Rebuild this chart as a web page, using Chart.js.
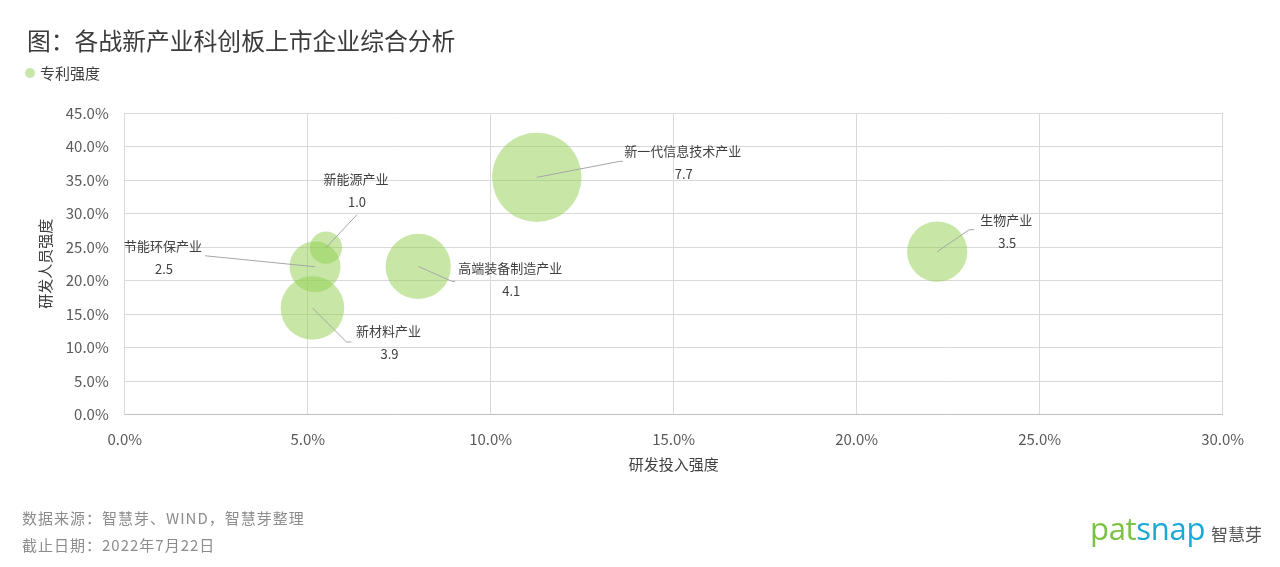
<!DOCTYPE html>
<html>
<head>
<meta charset="utf-8">
<script src="https://cdn.jsdelivr.net/npm/chart.js@4/dist/chart.umd.min.js"></script>
<style>
  html, body { margin: 0; padding: 0; background: #fff; }
  body { width: 1280px; height: 567px; position: relative; overflow: hidden;
         font-family: "Noto Sans CJK SC", "Noto Sans", sans-serif; }
  #wrap { position: absolute; left: 0; top: 0; width: 1280px; height: 567px; }
  .t { position: absolute; white-space: nowrap; line-height: 1; }
  #title { left: 27px; top: 28px; font-size: 23.8px; color: #3b3b3b; }
  #legend { left: 25px; top: 65px; font-size: 15px; color: #404040; }
  #legend i { display: inline-block; width: 10px; height: 10px; border-radius: 50%;
              background: #c8e6a8; margin-right: 5px; vertical-align: 1px; }
  .foot { left: 22px; font-size: 15px; color: #8c8c8c; letter-spacing: 1px; }
  #logo { left: 1090px; top: 513px; font-family: "Open Sans", sans-serif; font-size: 31px; letter-spacing: -0.3px; }
  #logo .g { color: #7cc242; } #logo .b { color: #1aa9d6; }
  #logocn { left: 1211px; top: 525px; font-size: 17px; color: #555; }
</style>
</head>
<body>
<div id="wrap"><canvas id="grafico"></canvas></div>
<div class="t" id="title">图：各战新产业科创板上市企业综合分析</div>
<div class="t" id="legend"><i></i>专利强度</div>
<div class="t foot" style="top:510px">数据来源：智慧芽、WIND，智慧芽整理</div>
<div class="t foot" style="top:537px">截止日期：2022年7月22日</div>
<div class="t" id="logo"><span class="g">pat</span><span class="b">snap</span></div>
<div class="t" id="logocn">智慧芽</div>
<script>
'use strict'

// 数据
const industries = ['新一代信息技术产业', '生物产业', '高端装备制造产业', '新材料产业', '节能环保产业', '新能源产业'];
const rdInvest = [11.26, 22.2, 8.02, 5.13, 5.2, 5.5];      // 研发投入强度 %
const rdStaff = [35.4, 24.3, 22.1, 15.9, 22.05, 24.9];     // 研发人员强度 %
const patent = [7.7, 3.5, 4.1, 3.9, 2.5, 1.0];             // 专利强度
const xTicks = [0, 5, 10, 15, 20, 25, 30];
const yTicks = [0, 5, 10, 15, 20, 25, 30, 35, 40, 45];

// label placement (px offsets from bubble centre) and leader line bends
const labelPos = [[146, -26], [69, -32], [92, 2], [76, 23], [-152, -21], [30, -69]];
const leaders = [
  [[83, -16], [86, -16]],
  [[32, -22], [37, -22]],
  [[34, 15], [37, 15]],
  [[34, 34], [39, 34]],
  [[-110, -11]],
  [[31, -33]]
];

const FONT = '"Noto Sans CJK SC", "Noto Sans", sans-serif';
const canvas = document.querySelector('#grafico');

const bubbleLabels = {
  id: 'bubbleLabels',
  afterDatasetsDraw(chart) {
    const ctx = chart.ctx;
    const pts = chart.getDatasetMeta(0).data;
    ctx.save();
    pts.forEach((p, i) => {
      // leader line
      ctx.beginPath();
      ctx.moveTo(p.x, p.y);
      leaders[i].forEach(q => ctx.lineTo(p.x + q[0], p.y + q[1]));
      ctx.strokeStyle = '#a6a6a6';
      ctx.lineWidth = 1;
      ctx.stroke();
      // texts
      ctx.fillStyle = '#404040';
      ctx.font = '13px ' + FONT;
      ctx.textAlign = 'center';
      ctx.textBaseline = 'middle';
      const lx = p.x + labelPos[i][0], ly = p.y + labelPos[i][1];
      ctx.fillText(industries[i], lx, ly);
      ctx.fillText(patent[i].toFixed(1), lx + 1, ly + 23);
    });
    ctx.restore();
  }
};

const data = {
  datasets: [{
    label: '专利强度',
    data: industries.map((n, i) => ({ x: rdInvest[i], y: rdStaff[i], v: patent[i] })),
    backgroundColor: 'rgba(146, 208, 80, 0.5)',
    borderWidth: 0,
    hoverBorderWidth: 0,
    radius: c => 16.1 * Math.sqrt(patent[c.dataIndex])
  }]
};

const config = {
  type: 'bubble',
  data,
  options: {
    responsive: false,
    animation: false,
    events: [],
    layout: { padding: { left: 36, top: 113, right: 57.3, bottom: 94 } },
    plugins: { legend: { display: false }, tooltip: { enabled: false } },
    scales: {
      x: {
        min: 0, max: 30,
        afterBuildTicks: s => { s.ticks = xTicks.map(v => ({ value: v })); },
        afterFit: s => { s.height = 58.5; },
        grid: { color: '#d9d9d9', drawTicks: false },
        border: { color: '#bfbfbf' },
        ticks: { padding: 16, color: '#595959', font: { family: FONT, size: 15 },
                 maxRotation: 0, callback: v => v.toFixed(1) + '%' },
        title: { display: true, text: '研发投入强度', color: '#404040', padding: 0,
                 font: { family: FONT, size: 15 } }
      },
      y: {
        min: 0, max: 45,
        afterBuildTicks: s => { s.ticks = yTicks.map(v => ({ value: v })); },
        afterFit: s => { s.width = 88.7; },
        grid: { color: '#d9d9d9', drawTicks: false },
        border: { color: '#d9d9d9' },
        ticks: { padding: 16, color: '#595959', font: { family: FONT, size: 15 },
                 callback: v => v.toFixed(1) + '%' },
        title: { display: true, text: '研发人员强度', color: '#404040', padding: 0,
                 font: { family: FONT, size: 15 } }
      }
    }
  },
  plugins: [bubbleLabels]
};

canvas.width = 1280;
canvas.height = 567;
const GraficoInd = new Chart(canvas, config);
</script>
</body>
</html>
